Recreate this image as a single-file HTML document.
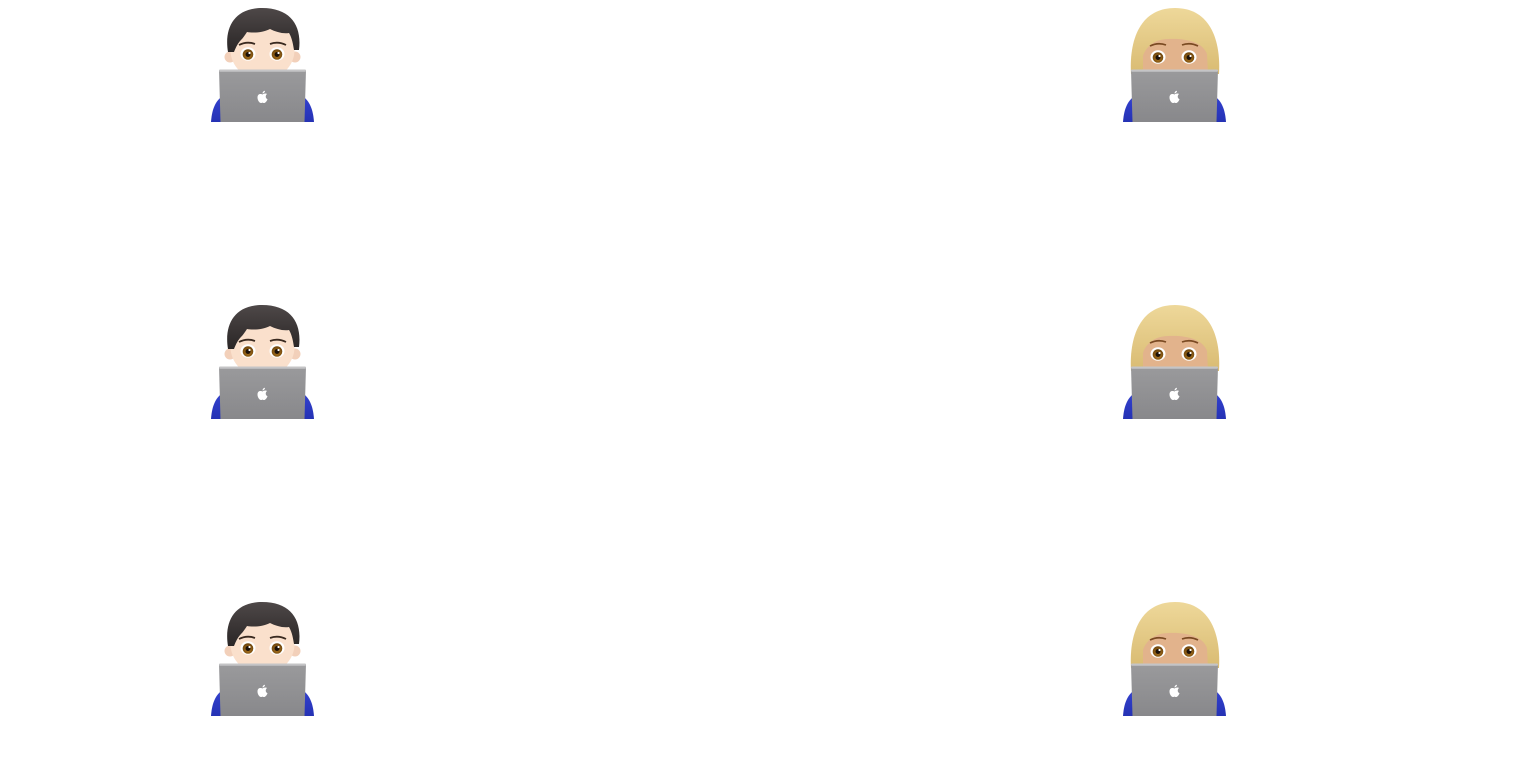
<!DOCTYPE html>
<html><head><meta charset="utf-8"><style>
html,body{margin:0;padding:0;background:#fff;}
svg{display:block;}
</style></head><body>
<svg width="1524" height="773" viewBox="0 0 1524 773" xmlns="http://www.w3.org/2000/svg">
<defs>
<linearGradient id="lap" x1="0" y1="0" x2="0" y2="1"><stop offset="0" stop-color="#9a9a9c"/><stop offset="1" stop-color="#88888b"/></linearGradient>
<linearGradient id="hairM" x1="0" y1="0" x2="0" y2="1"><stop offset="0" stop-color="#4e4848"/><stop offset="1" stop-color="#2a2626"/></linearGradient>
<linearGradient id="hairF" x1="0" y1="0" x2="0" y2="1"><stop offset="0" stop-color="#eed89a"/><stop offset="1" stop-color="#d9bb72"/></linearGradient>
<linearGradient id="blue" x1="0" y1="0" x2="0" y2="1"><stop offset="0" stop-color="#3442d0"/><stop offset="1" stop-color="#2532b4"/></linearGradient>
<radialGradient id="iris" cx="0.5" cy="0.6" r="0.6"><stop offset="0" stop-color="#b07820"/><stop offset="1" stop-color="#6a420c"/></radialGradient>
</defs>

<!-- MALE row 0 -->
<g>
<path d="M211,122 C212,108 216,100 224,95 L301,95 C309,100 313,108 314,122 Z" fill="url(#blue)"/>
<circle cx="230" cy="57" r="5.5" fill="#f2d0ba"/><circle cx="295" cy="57" r="5.5" fill="#f2d0ba"/>
<ellipse cx="262.5" cy="50" rx="32" ry="30" fill="#fae0cc"/>
<path d="M228,52 C224,28 234,8 262,8 C291,8 302,26 299,50 L294,50 C293,44 292,38 289,33 C283,34 276,32 270,29 C262,33 252,33 247,32 C245,35 243,38 241,40 C238,43 236,47 234,52 Z" fill="url(#hairM)"/>
<path d="M239,45 Q247,41 255,44" stroke="#3a2a20" stroke-width="1.8" fill="none"/>
<path d="M270,44 Q278,41 286,45" stroke="#3a2a20" stroke-width="1.8" fill="none"/>
<ellipse cx="248" cy="54" rx="7.5" ry="6.8" fill="#fff"/><ellipse cx="277" cy="54" rx="7.5" ry="6.8" fill="#fff"/>
<circle cx="248" cy="54.5" r="5.3" fill="url(#iris)"/><circle cx="277" cy="54.5" r="5.3" fill="url(#iris)"/>
<circle cx="248" cy="54.5" r="2.5" fill="#1c1108"/><circle cx="277" cy="54.5" r="2.5" fill="#1c1108"/>
<circle cx="249.5" cy="53" r="1.1" fill="#fff"/><circle cx="278.5" cy="53" r="1.1" fill="#fff"/>
<path d="M219,70 L306,70 L304.5,122 L220.5,122 Z" fill="url(#lap)"/>
<rect x="219" y="69.5" width="87" height="2.2" rx="1" fill="#c4c4c6"/>
<g transform="translate(262.5,97)" fill="#fff"><path d="M0,-2.5 C-1.5,-3.5 -5,-3.5 -5,0.5 C-5,3.5 -3,6 -1.5,6 C-0.8,6 -0.5,5.6 0,5.6 C0.5,5.6 0.8,6 1.5,6 C3,6 4.5,3.8 5,2.2 C3.5,1.5 3,0.2 3.3,-1 C3.5,-2 4,-2.6 4.5,-3 C3.5,-3.8 1.5,-3.5 0,-2.5 Z"/><path d="M0,-3.5 C0,-5 1,-6 2.5,-6.2 C2.5,-4.8 1.5,-3.8 0,-3.5 Z"/></g>
</g>

<!-- MALE row 1 -->
<g transform="translate(0,297)">
<path d="M211,122 C212,108 216,100 224,95 L301,95 C309,100 313,108 314,122 Z" fill="url(#blue)"/>
<circle cx="230" cy="57" r="5.5" fill="#f2d0ba"/><circle cx="295" cy="57" r="5.5" fill="#f2d0ba"/>
<ellipse cx="262.5" cy="50" rx="32" ry="30" fill="#fae0cc"/>
<path d="M228,52 C224,28 234,8 262,8 C291,8 302,26 299,50 L294,50 C293,44 292,38 289,33 C283,34 276,32 270,29 C262,33 252,33 247,32 C245,35 243,38 241,40 C238,43 236,47 234,52 Z" fill="url(#hairM)"/>
<path d="M239,45 Q247,41 255,44" stroke="#3a2a20" stroke-width="1.8" fill="none"/>
<path d="M270,44 Q278,41 286,45" stroke="#3a2a20" stroke-width="1.8" fill="none"/>
<ellipse cx="248" cy="54" rx="7.5" ry="6.8" fill="#fff"/><ellipse cx="277" cy="54" rx="7.5" ry="6.8" fill="#fff"/>
<circle cx="248" cy="54.5" r="5.3" fill="url(#iris)"/><circle cx="277" cy="54.5" r="5.3" fill="url(#iris)"/>
<circle cx="248" cy="54.5" r="2.5" fill="#1c1108"/><circle cx="277" cy="54.5" r="2.5" fill="#1c1108"/>
<circle cx="249.5" cy="53" r="1.1" fill="#fff"/><circle cx="278.5" cy="53" r="1.1" fill="#fff"/>
<path d="M219,70 L306,70 L304.5,122 L220.5,122 Z" fill="url(#lap)"/>
<rect x="219" y="69.5" width="87" height="2.2" rx="1" fill="#c4c4c6"/>
<g transform="translate(262.5,97)" fill="#fff"><path d="M0,-2.5 C-1.5,-3.5 -5,-3.5 -5,0.5 C-5,3.5 -3,6 -1.5,6 C-0.8,6 -0.5,5.6 0,5.6 C0.5,5.6 0.8,6 1.5,6 C3,6 4.5,3.8 5,2.2 C3.5,1.5 3,0.2 3.3,-1 C3.5,-2 4,-2.6 4.5,-3 C3.5,-3.8 1.5,-3.5 0,-2.5 Z"/><path d="M0,-3.5 C0,-5 1,-6 2.5,-6.2 C2.5,-4.8 1.5,-3.8 0,-3.5 Z"/></g>
</g>

<!-- MALE row 2 -->
<g transform="translate(0,594)">
<path d="M211,122 C212,108 216,100 224,95 L301,95 C309,100 313,108 314,122 Z" fill="url(#blue)"/>
<circle cx="230" cy="57" r="5.5" fill="#f2d0ba"/><circle cx="295" cy="57" r="5.5" fill="#f2d0ba"/>
<ellipse cx="262.5" cy="50" rx="32" ry="30" fill="#fae0cc"/>
<path d="M228,52 C224,28 234,8 262,8 C291,8 302,26 299,50 L294,50 C293,44 292,38 289,33 C283,34 276,32 270,29 C262,33 252,33 247,32 C245,35 243,38 241,40 C238,43 236,47 234,52 Z" fill="url(#hairM)"/>
<path d="M239,45 Q247,41 255,44" stroke="#3a2a20" stroke-width="1.8" fill="none"/>
<path d="M270,44 Q278,41 286,45" stroke="#3a2a20" stroke-width="1.8" fill="none"/>
<ellipse cx="248" cy="54" rx="7.5" ry="6.8" fill="#fff"/><ellipse cx="277" cy="54" rx="7.5" ry="6.8" fill="#fff"/>
<circle cx="248" cy="54.5" r="5.3" fill="url(#iris)"/><circle cx="277" cy="54.5" r="5.3" fill="url(#iris)"/>
<circle cx="248" cy="54.5" r="2.5" fill="#1c1108"/><circle cx="277" cy="54.5" r="2.5" fill="#1c1108"/>
<circle cx="249.5" cy="53" r="1.1" fill="#fff"/><circle cx="278.5" cy="53" r="1.1" fill="#fff"/>
<path d="M219,70 L306,70 L304.5,122 L220.5,122 Z" fill="url(#lap)"/>
<rect x="219" y="69.5" width="87" height="2.2" rx="1" fill="#c4c4c6"/>
<g transform="translate(262.5,97)" fill="#fff"><path d="M0,-2.5 C-1.5,-3.5 -5,-3.5 -5,0.5 C-5,3.5 -3,6 -1.5,6 C-0.8,6 -0.5,5.6 0,5.6 C0.5,5.6 0.8,6 1.5,6 C3,6 4.5,3.8 5,2.2 C3.5,1.5 3,0.2 3.3,-1 C3.5,-2 4,-2.6 4.5,-3 C3.5,-3.8 1.5,-3.5 0,-2.5 Z"/><path d="M0,-3.5 C0,-5 1,-6 2.5,-6.2 C2.5,-4.8 1.5,-3.8 0,-3.5 Z"/></g>
</g>

<!-- FEMALE row 0 -->
<g>
<path d="M1123,122 C1124,108 1128,100 1136,95 L1213,95 C1221,100 1225,108 1226,122 Z" fill="url(#blue)"/>
<path d="M1131,74 C1129,40 1140,8 1175,8 C1210,8 1221,40 1219,74 Z" fill="url(#hairF)"/>
<path d="M1143,74 L1143,56 C1146,46 1156,39 1168,39 C1188,38 1203,43 1207,54 L1208,74 Z" fill="#e2b38c"/>
<path d="M1150,46 Q1158,42 1166,45" stroke="#7a4a22" stroke-width="1.7" fill="none"/>
<path d="M1182,45 Q1190,42 1198,46" stroke="#7a4a22" stroke-width="1.7" fill="none"/>
<ellipse cx="1158" cy="57" rx="7.5" ry="6.8" fill="#fff"/><ellipse cx="1189" cy="57" rx="7.5" ry="6.8" fill="#fff"/>
<circle cx="1158" cy="57.5" r="5.3" fill="url(#iris)"/><circle cx="1189" cy="57.5" r="5.3" fill="url(#iris)"/>
<circle cx="1158" cy="57.5" r="2.5" fill="#1c1108"/><circle cx="1189" cy="57.5" r="2.5" fill="#1c1108"/>
<circle cx="1159.5" cy="56" r="1.1" fill="#fff"/><circle cx="1190.5" cy="56" r="1.1" fill="#fff"/>
<path d="M1131,70 L1218,70 L1216.5,122 L1132.5,122 Z" fill="url(#lap)"/>
<rect x="1131" y="69.5" width="87" height="2.2" rx="1" fill="#c4c4c6"/>
<g transform="translate(1174.5,97)" fill="#fff"><path d="M0,-2.5 C-1.5,-3.5 -5,-3.5 -5,0.5 C-5,3.5 -3,6 -1.5,6 C-0.8,6 -0.5,5.6 0,5.6 C0.5,5.6 0.8,6 1.5,6 C3,6 4.5,3.8 5,2.2 C3.5,1.5 3,0.2 3.3,-1 C3.5,-2 4,-2.6 4.5,-3 C3.5,-3.8 1.5,-3.5 0,-2.5 Z"/><path d="M0,-3.5 C0,-5 1,-6 2.5,-6.2 C2.5,-4.8 1.5,-3.8 0,-3.5 Z"/></g>
</g>

<!-- FEMALE row 1 -->
<g transform="translate(0,297)">
<path d="M1123,122 C1124,108 1128,100 1136,95 L1213,95 C1221,100 1225,108 1226,122 Z" fill="url(#blue)"/>
<path d="M1131,74 C1129,40 1140,8 1175,8 C1210,8 1221,40 1219,74 Z" fill="url(#hairF)"/>
<path d="M1143,74 L1143,56 C1146,46 1156,39 1168,39 C1188,38 1203,43 1207,54 L1208,74 Z" fill="#e2b38c"/>
<path d="M1150,46 Q1158,42 1166,45" stroke="#7a4a22" stroke-width="1.7" fill="none"/>
<path d="M1182,45 Q1190,42 1198,46" stroke="#7a4a22" stroke-width="1.7" fill="none"/>
<ellipse cx="1158" cy="57" rx="7.5" ry="6.8" fill="#fff"/><ellipse cx="1189" cy="57" rx="7.5" ry="6.8" fill="#fff"/>
<circle cx="1158" cy="57.5" r="5.3" fill="url(#iris)"/><circle cx="1189" cy="57.5" r="5.3" fill="url(#iris)"/>
<circle cx="1158" cy="57.5" r="2.5" fill="#1c1108"/><circle cx="1189" cy="57.5" r="2.5" fill="#1c1108"/>
<circle cx="1159.5" cy="56" r="1.1" fill="#fff"/><circle cx="1190.5" cy="56" r="1.1" fill="#fff"/>
<path d="M1131,70 L1218,70 L1216.5,122 L1132.5,122 Z" fill="url(#lap)"/>
<rect x="1131" y="69.5" width="87" height="2.2" rx="1" fill="#c4c4c6"/>
<g transform="translate(1174.5,97)" fill="#fff"><path d="M0,-2.5 C-1.5,-3.5 -5,-3.5 -5,0.5 C-5,3.5 -3,6 -1.5,6 C-0.8,6 -0.5,5.6 0,5.6 C0.5,5.6 0.8,6 1.5,6 C3,6 4.5,3.8 5,2.2 C3.5,1.5 3,0.2 3.3,-1 C3.5,-2 4,-2.6 4.5,-3 C3.5,-3.8 1.5,-3.5 0,-2.5 Z"/><path d="M0,-3.5 C0,-5 1,-6 2.5,-6.2 C2.5,-4.8 1.5,-3.8 0,-3.5 Z"/></g>
</g>

<!-- FEMALE row 2 -->
<g transform="translate(0,594)">
<path d="M1123,122 C1124,108 1128,100 1136,95 L1213,95 C1221,100 1225,108 1226,122 Z" fill="url(#blue)"/>
<path d="M1131,74 C1129,40 1140,8 1175,8 C1210,8 1221,40 1219,74 Z" fill="url(#hairF)"/>
<path d="M1143,74 L1143,56 C1146,46 1156,39 1168,39 C1188,38 1203,43 1207,54 L1208,74 Z" fill="#e2b38c"/>
<path d="M1150,46 Q1158,42 1166,45" stroke="#7a4a22" stroke-width="1.7" fill="none"/>
<path d="M1182,45 Q1190,42 1198,46" stroke="#7a4a22" stroke-width="1.7" fill="none"/>
<ellipse cx="1158" cy="57" rx="7.5" ry="6.8" fill="#fff"/><ellipse cx="1189" cy="57" rx="7.5" ry="6.8" fill="#fff"/>
<circle cx="1158" cy="57.5" r="5.3" fill="url(#iris)"/><circle cx="1189" cy="57.5" r="5.3" fill="url(#iris)"/>
<circle cx="1158" cy="57.5" r="2.5" fill="#1c1108"/><circle cx="1189" cy="57.5" r="2.5" fill="#1c1108"/>
<circle cx="1159.5" cy="56" r="1.1" fill="#fff"/><circle cx="1190.5" cy="56" r="1.1" fill="#fff"/>
<path d="M1131,70 L1218,70 L1216.5,122 L1132.5,122 Z" fill="url(#lap)"/>
<rect x="1131" y="69.5" width="87" height="2.2" rx="1" fill="#c4c4c6"/>
<g transform="translate(1174.5,97)" fill="#fff"><path d="M0,-2.5 C-1.5,-3.5 -5,-3.5 -5,0.5 C-5,3.5 -3,6 -1.5,6 C-0.8,6 -0.5,5.6 0,5.6 C0.5,5.6 0.8,6 1.5,6 C3,6 4.5,3.8 5,2.2 C3.5,1.5 3,0.2 3.3,-1 C3.5,-2 4,-2.6 4.5,-3 C3.5,-3.8 1.5,-3.5 0,-2.5 Z"/><path d="M0,-3.5 C0,-5 1,-6 2.5,-6.2 C2.5,-4.8 1.5,-3.8 0,-3.5 Z"/></g>
</g>
</svg>
</body></html>
